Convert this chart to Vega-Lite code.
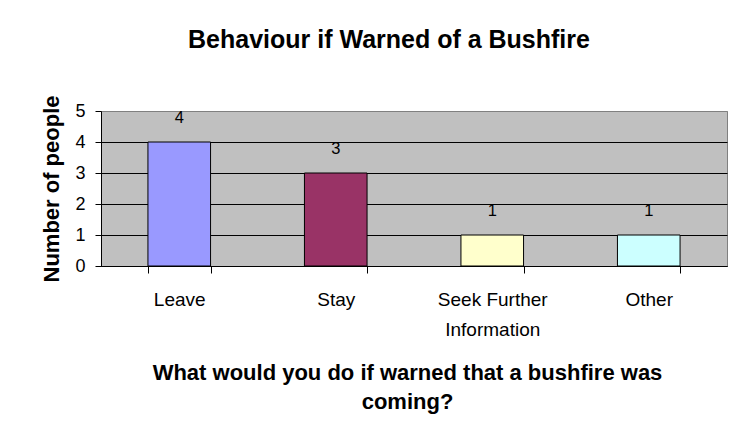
{
  "$schema": "https://vega.github.io/schema/vega-lite/v6.json",
  "width": 626,
  "height": 155,
  "autosize": "none",
  "padding": {"left": 101, "top": 111, "right": 16, "bottom": 171},
  "background": "white",
  "title": {
    "text": "Behaviour if Warned of a Bushfire",
    "font": "Liberation Sans",
    "fontSize": 25,
    "fontWeight": "bold",
    "color": "black",
    "anchor": "middle",
    "frame": "group",
    "dx": -25,
    "baseline": "alphabetic",
    "offset": 22
  },
  "data": {
    "values": [
      {"response": "Leave", "people": 4},
      {"response": "Stay", "people": 3},
      {"response": "Seek Further Information", "people": 1},
      {"response": "Other", "people": 1}
    ]
  },
  "encoding": {
    "x": {
      "field": "response",
      "type": "nominal",
      "sort": null,
      "scale": {"paddingInner": 0.6, "paddingOuter": 0.3},
      "axis": {
        "title": ["What would you do if warned that a bushfire was", "coming?"],
        "titleFont": "Liberation Sans",
        "titleFontSize": 22,
        "titleFontWeight": "bold",
        "titleColor": "black",
        "titleLineHeight": 29,
        "titlePadding": 23,
        "titleX": 306,
        "labelAngle": 0,
        "labelFont": "Liberation Sans",
        "labelFontSize": 19,
        "labelColor": "black",
        "labelPadding": 17,
        "labelLineHeight": 30,
        "labelExpr": "datum.label == 'Seek Further Information' ? ['Seek Further', 'Information'] : datum.label",
        "tickBand": "extent",
        "tickSize": 7,
        "tickColor": "black",
        "domainColor": "black",
        "grid": false
      }
    },
    "y": {
      "field": "people",
      "type": "quantitative",
      "scale": {"domain": [0, 5], "nice": false},
      "axis": {
        "title": "Number of people",
        "titleFont": "Liberation Sans",
        "titleFontSize": 22,
        "titleFontWeight": "bold",
        "titleColor": "black",
        "titlePadding": 11,
        "values": [0, 1, 2, 3, 4, 5],
        "labelFont": "Liberation Sans",
        "labelFontSize": 18,
        "labelColor": "black",
        "labelPadding": 10,
        "tickSize": 6,
        "tickColor": "black",
        "domainColor": "black",
        "grid": true,
        "gridColor": {"condition": {"test": "datum.value == 5", "value": "#808080"}, "value": "black"},
        "gridOpacity": 1
      }
    }
  },
  "layer": [
    {
      "mark": {"type": "bar", "stroke": "black", "strokeWidth": 1},
      "encoding": {
        "color": {
          "field": "response",
          "type": "nominal",
          "scale": {
            "domain": ["Leave", "Stay", "Seek Further Information", "Other"],
            "range": ["#9999FF", "#993366", "#FFFFCC", "#CCFFFF"]
          },
          "legend": null
        }
      }
    },
    {
      "mark": {"type": "text", "baseline": "middle", "dy": -24, "font": "Liberation Sans", "fontSize": 16.5, "color": "black"},
      "encoding": {"text": {"field": "people", "type": "quantitative"}}
    }
  ],
  "config": {
    "view": {"fill": "#C0C0C0", "stroke": "#808080", "strokeWidth": 1}
  }
}
